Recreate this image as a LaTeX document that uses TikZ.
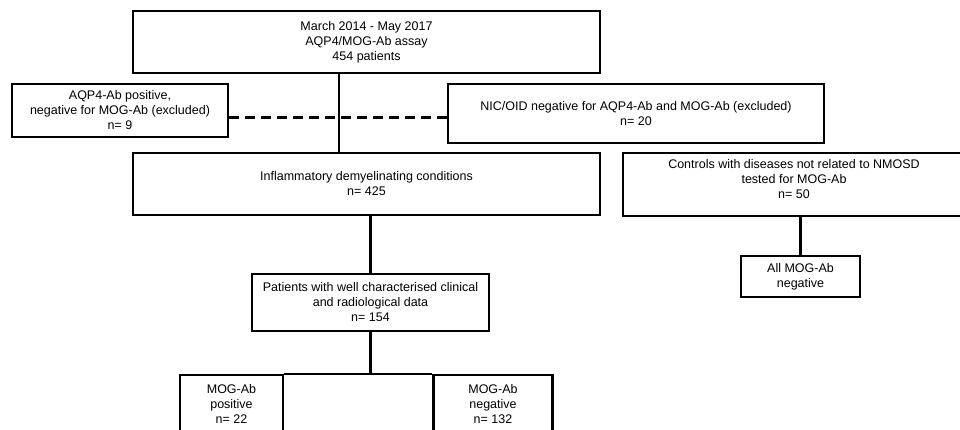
\documentclass[tikz,border=0pt]{standalone}
\usepackage{fontspec}
\setmainfont{Liberation Sans}
\begin{document}
\begin{tikzpicture}[x=1pt,y=-1pt,
  box/.style={draw, line width=2.3pt, rectangle, inner sep=0pt, align=center,
              font=\fontsize{12.5}{15}\selectfont},
  link/.style={line width=2.3pt}]
\useasboundingbox (0,0) rectangle (960,430);
\node[box, minimum width=467pt, minimum height=62pt] (top) at (366.5,42)
  {March 2014 - May 2017\\AQP4/MOG-Ab assay\\454 patients};
\node[box, minimum width=216pt, minimum height=53pt] (aqp) at (120,110.5)
  {AQP4-Ab positive,\\negative for MOG-Ab (excluded)\\n= 9};
\node[box, minimum width=376pt, minimum height=59pt] (nic) at (636,113.5)
  {NIC/OID negative for AQP4-Ab and MOG-Ab (excluded)\\n= 20};
\node[box, minimum width=467pt, minimum height=62pt] (inf) at (366.5,184)
  {Inflammatory demyelinating conditions\\n= 425};
\node[box, minimum width=342pt, minimum height=63pt] (ctl) at (794,184.5)
  {Controls with diseases not related to NMOSD\\tested for MOG-Ab\\n= 50\rule[-12pt]{0pt}{12pt}};
\node[box, minimum width=119pt, minimum height=41pt] (all) at (800.5,276.5)
  {All MOG-Ab\\negative};
\node[box, minimum width=237pt, minimum height=57pt] (pat) at (370.5,302.5)
  {Patients with well characterised clinical\\and radiological data\\n= 154};
\node[box, anchor=north, minimum width=103pt, minimum height=58pt] (pos) at (231.5,374)
  {MOG-Ab\\positive\\n= 22};
\node[box, anchor=north, minimum width=119pt, minimum height=58pt] (neg) at (493,374)
  {MOG-Ab\\negative\\n= 132};
\draw[link] ([xshift=-27.5pt]top.south) -- ([xshift=-27.5pt]top.south |- inf.north);
\draw[link, dash pattern=on 10pt off 6pt] ([yshift=-7pt]aqp.east) -- ([yshift=-7pt]aqp.east -| nic.west);
\draw[link] (inf.south -| pat.north) -- (pat.north);
\draw[link] (pat.south) -- (pat.south |- pos.north);
\draw[link] (pos.north east) -- (neg.north west);
\draw[link] (ctl.south -| all.north) -- (all.north);
\end{tikzpicture}
\end{document}
